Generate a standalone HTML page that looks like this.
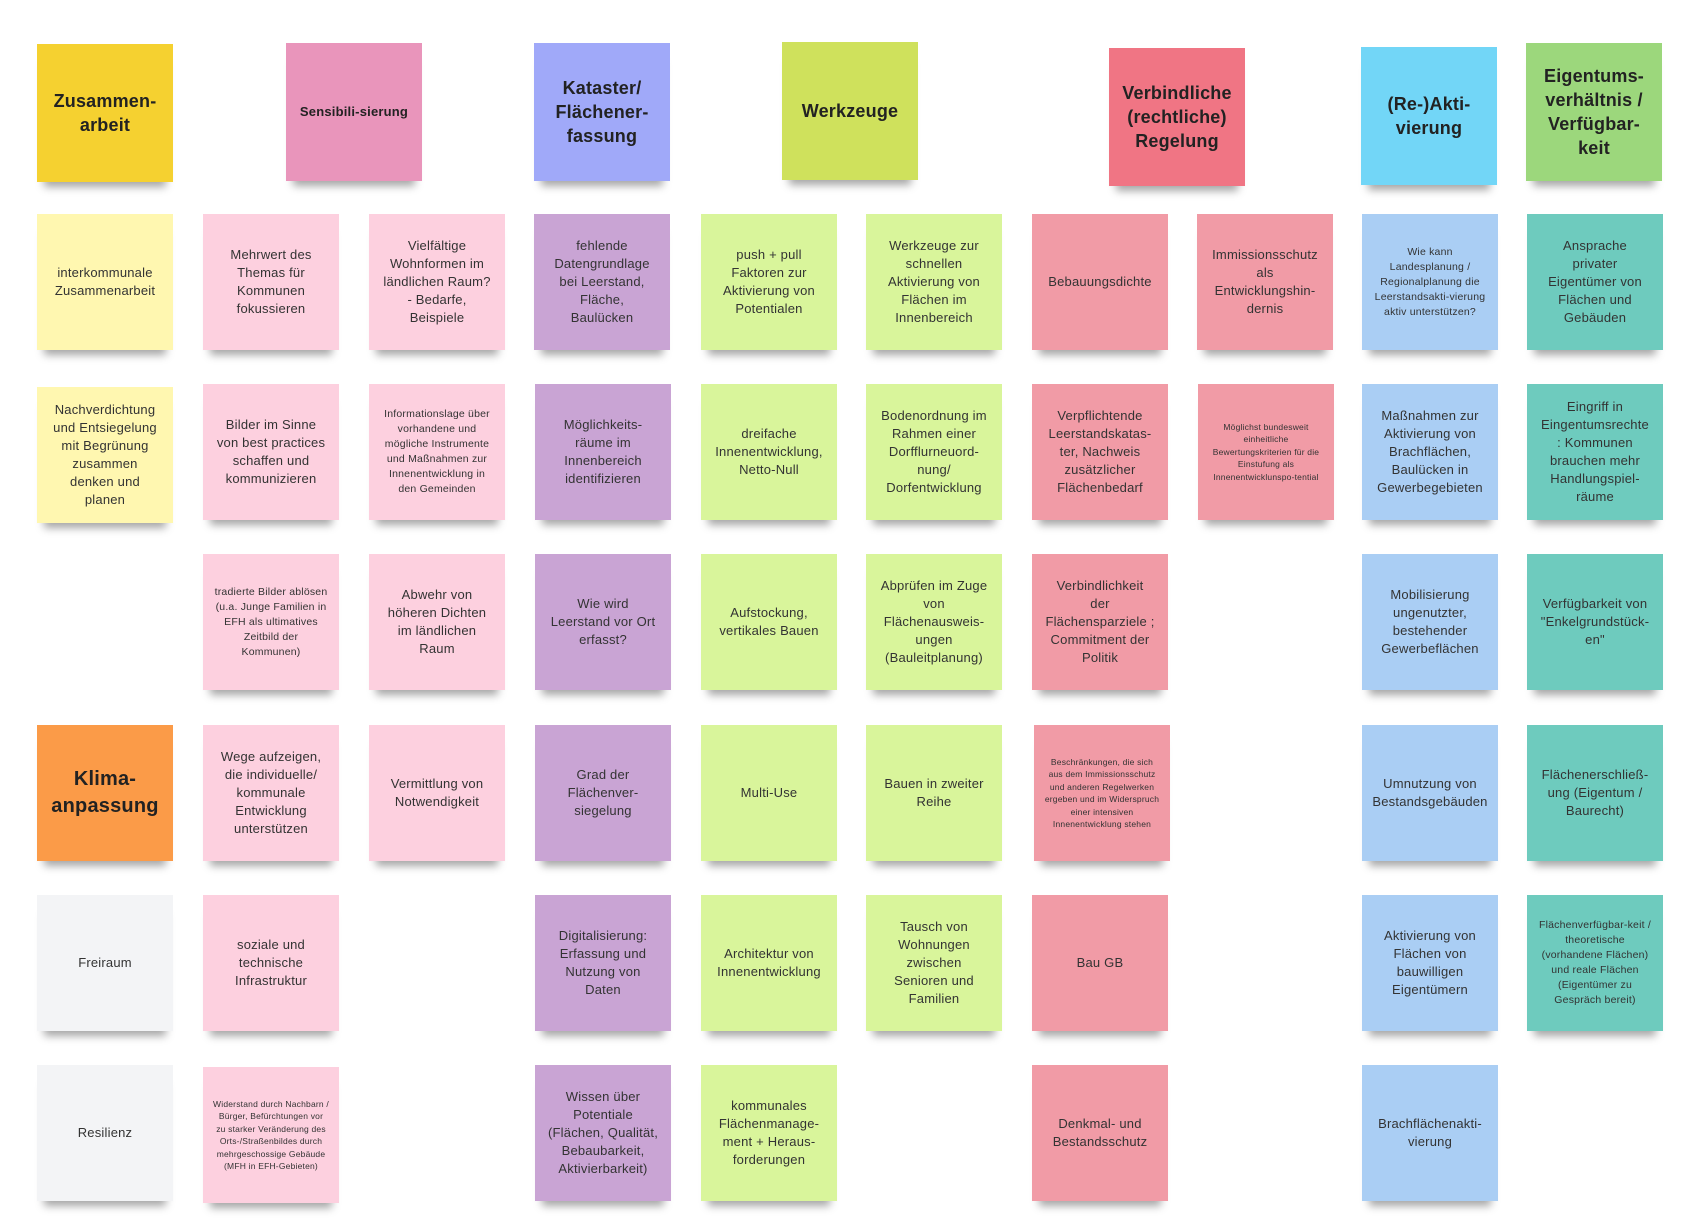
<!DOCTYPE html>
<html><head><meta charset="utf-8"><style>
body{margin:0;background:#fff;width:1693px;height:1218px;position:relative;overflow:hidden;font-family:"Liberation Sans",sans-serif;}
.n{position:absolute;width:136px;height:136px;display:flex;align-items:center;justify-content:center;text-align:center;color:#333;font-size:13px;line-height:18px;padding:0 13px;box-sizing:border-box;box-shadow:0 12px 8px -7px rgba(0,0,0,.35);letter-spacing:0.2px;}
.h{height:138px;font-weight:bold;font-size:18px;line-height:24px;color:#222;padding:0 8px;}
.s{font-size:10.5px;line-height:15px;padding:0 10px;}
.t{font-size:8.5px;line-height:12.5px;padding:0 10px;}
.Y{background:#f5d130}.y{background:#fff7b0}
.P{background:#e995bb}.p{background:#fdd0df}
.V{background:#a0a9f9}.v{background:#c9a4d4}
.G{background:#cfe15c}.g{background:#d9f59b}
.R{background:#f07584}.r{background:#f19ba6}
.C{background:#72d6f7}.c{background:#aacef4}
.E{background:#9cd77c}.e{background:#6ecbbe}
.w{background:#f3f4f6}.O{background:#fb9b48}
</style></head><body>
<div class="n h Y" style="left:37px;top:44px">Zusammen-arbeit</div>
<div class="n h P" style="left:286px;top:43px;font-size:13px">Sensibili-sierung</div>
<div class="n h V" style="left:534px;top:43px">Kataster/ Flächener-fassung</div>
<div class="n h G" style="left:782px;top:42px">Werkzeuge</div>
<div class="n h R" style="left:1109px;top:48px">Verbindliche (rechtliche) Regelung</div>
<div class="n h C" style="left:1361px;top:47px">(Re-)Akti-vierung</div>
<div class="n h E" style="left:1526px;top:43px">Eigentums-verhältnis / Verfügbar-keit</div>

<div class="n y" style="left:37px;top:214px">interkommunale Zusammenarbeit</div>
<div class="n y" style="left:37px;top:387px">Nachverdichtung und Entsiegelung mit Begrünung zusammen denken und planen</div>
<div class="n h O" style="left:37px;top:725px;height:136px;font-size:20px;line-height:27px">Klima-anpassung</div>
<div class="n w" style="left:37px;top:895px">Freiraum</div>
<div class="n w" style="left:37px;top:1065px">Resilienz</div>

<div class="n p" style="left:203px;top:214px">Mehrwert des Themas für Kommunen fokussieren</div>
<div class="n p" style="left:203px;top:384px">Bilder im Sinne von best practices schaffen und kommunizieren</div>
<div class="n p s" style="left:203px;top:554px">tradierte Bilder ablösen (u.a. Junge Familien in EFH als ultimatives Zeitbild der Kommunen)</div>
<div class="n p" style="left:203px;top:725px">Wege aufzeigen, die individuelle/ kommunale Entwicklung unterstützen</div>
<div class="n p" style="left:203px;top:895px">soziale und technische Infrastruktur</div>
<div class="n p t" style="left:203px;top:1067px">Widerstand durch Nachbarn / Bürger, Befürchtungen vor zu starker Veränderung des Orts-/Straßenbildes durch mehrgeschossige Gebäude (MFH in EFH-Gebieten)</div>

<div class="n p" style="left:369px;top:214px">Vielfältige Wohnformen im ländlichen Raum? - Bedarfe, Beispiele</div>
<div class="n p s" style="left:369px;top:384px">Informationslage über vorhandene und mögliche Instrumente und Maßnahmen zur Innenentwicklung in den Gemeinden</div>
<div class="n p" style="left:369px;top:554px">Abwehr von höheren Dichten im ländlichen Raum</div>
<div class="n p" style="left:369px;top:725px">Vermittlung von Notwendigkeit</div>

<div class="n v" style="left:534px;top:214px">fehlende Datengrundlage bei Leerstand, Fläche, Baulücken</div>
<div class="n v" style="left:535px;top:384px">Möglichkeits-räume im Innenbereich identifizieren</div>
<div class="n v" style="left:535px;top:554px">Wie wird Leerstand vor Ort erfasst?</div>
<div class="n v" style="left:535px;top:725px">Grad der Flächenver-siegelung</div>
<div class="n v" style="left:535px;top:895px">Digitalisierung: Erfassung und Nutzung von Daten</div>
<div class="n v" style="left:535px;top:1065px">Wissen über Potentiale (Flächen, Qualität, Bebaubarkeit, Aktivierbarkeit)</div>

<div class="n g" style="left:701px;top:214px">push + pull Faktoren zur Aktivierung von Potentialen</div>
<div class="n g" style="left:701px;top:384px">dreifache Innenentwicklung, Netto-Null</div>
<div class="n g" style="left:701px;top:554px">Aufstockung, vertikales Bauen</div>
<div class="n g" style="left:701px;top:725px">Multi-Use</div>
<div class="n g" style="left:701px;top:895px">Architektur von Innenentwicklung</div>
<div class="n g" style="left:701px;top:1065px">kommunales Flächenmanage-ment + Heraus-forderungen</div>

<div class="n g" style="left:866px;top:214px">Werkzeuge zur schnellen Aktivierung von Flächen im Innenbereich</div>
<div class="n g" style="left:866px;top:384px">Bodenordnung im Rahmen einer Dorfflurneuord-nung/ Dorfentwicklung</div>
<div class="n g" style="left:866px;top:554px">Abprüfen im Zuge von Flächenausweis-ungen (Bauleitplanung)</div>
<div class="n g" style="left:866px;top:725px">Bauen in zweiter Reihe</div>
<div class="n g" style="left:866px;top:895px">Tausch von Wohnungen zwischen Senioren und Familien</div>

<div class="n r" style="left:1032px;top:214px">Bebauungsdichte</div>
<div class="n r" style="left:1032px;top:384px">Verpflichtende Leerstandskatas-ter, Nachweis zusätzlicher Flächenbedarf</div>
<div class="n r" style="left:1032px;top:554px">Verbindlichkeit der Flächensparziele ; Commitment der Politik</div>
<div class="n r t" style="left:1034px;top:725px">Beschränkungen, die sich aus dem Immissionsschutz und anderen Regelwerken ergeben und im Widerspruch einer intensiven Innenentwicklung stehen</div>
<div class="n r" style="left:1032px;top:895px">Bau GB</div>
<div class="n r" style="left:1032px;top:1065px">Denkmal- und Bestandsschutz</div>

<div class="n r" style="left:1197px;top:214px">Immissionsschutz als Entwicklungshin-dernis</div>
<div class="n r t" style="left:1198px;top:384px">Möglichst bundesweit einheitliche Bewertungskriterien für die Einstufung als Innenentwicklunspo-tential</div>

<div class="n c s" style="left:1362px;top:214px">Wie kann Landesplanung / Regionalplanung die Leerstandsakti-vierung aktiv unterstützen?</div>
<div class="n c" style="left:1362px;top:384px">Maßnahmen zur Aktivierung von Brachflächen, Baulücken in Gewerbegebieten</div>
<div class="n c" style="left:1362px;top:554px">Mobilisierung ungenutzter, bestehender Gewerbeflächen</div>
<div class="n c" style="left:1362px;top:725px">Umnutzung von Bestandsgebäuden</div>
<div class="n c" style="left:1362px;top:895px">Aktivierung von Flächen von bauwilligen Eigentümern</div>
<div class="n c" style="left:1362px;top:1065px">Brachflächenakti-vierung</div>

<div class="n e" style="left:1527px;top:214px">Ansprache privater Eigentümer von Flächen und Gebäuden</div>
<div class="n e" style="left:1527px;top:384px">Eingriff in Eingentumsrechte : Kommunen brauchen mehr Handlungspiel-räume</div>
<div class="n e" style="left:1527px;top:554px">Verfügbarkeit von "Enkelgrundstück-en"</div>
<div class="n e" style="left:1527px;top:725px">Flächenerschließ-ung (Eigentum / Baurecht)</div>
<div class="n e s" style="left:1527px;top:895px">Flächenverfügbar-keit / theoretische (vorhandene Flächen) und reale Flächen (Eigentümer zu Gespräch bereit)</div>
</body></html>
